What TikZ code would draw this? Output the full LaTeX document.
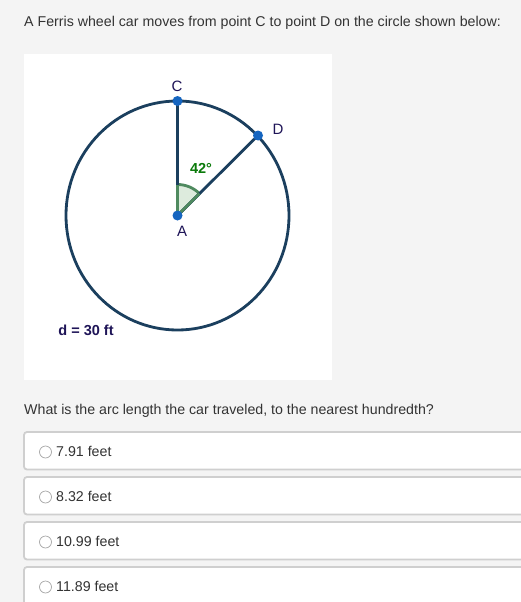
\documentclass[tikz,border=0pt]{standalone}
\usepackage{fontspec}
\setmainfont{Liberation Sans}
\definecolor{bgc}{HTML}{F4F4F4}
\definecolor{navy}{HTML}{1B3F5E}
\definecolor{ptblue}{HTML}{1565C0}
\definecolor{lbl}{HTML}{1E1457}
\definecolor{grn}{HTML}{0A7A0A}
\definecolor{arcg}{HTML}{4F8A5F}
\definecolor{arcf}{HTML}{DDEBDD}
\definecolor{boxb}{HTML}{CFCFCF}
\definecolor{txt}{HTML}{333333}
\tikzset{
  pt/.style={circle,fill=ptblue,inner sep=0pt,minimum size=10pt},
  ptlbl/.style={text=lbl,font=\fontsize{15}{17}\selectfont,inner sep=0pt},
  body/.style={text=txt,font=\fontsize{14.2}{16}\selectfont,inner sep=0pt,anchor=west},
  optbox/.style={draw=boxb,line width=1.8pt,fill=white,rounded corners=3pt},
  radio/.style={circle,draw=gray!70,fill=white,line width=0.7pt,minimum size=12pt,inner sep=0pt},
  stroke/.style={line width=2.8pt}
}
\begin{document}
\begin{tikzpicture}[x=1pt,y=-1pt]
\useasboundingbox (0,0) rectangle (521,602);
\fill[bgc] (0,0) rectangle (521,602);
\node[body] (title) at (24,23) {A Ferris wheel car moves from point C to point D on the circle shown below:};
% panel
\fill[white] (24,54) rectangle (332,380);
% circle
\coordinate (A) at (177.5,215.5);
\draw[navy,stroke] (A) ellipse [x radius=111.5pt,y radius=114.5pt];
\coordinate (C) at (177.5,101);
\coordinate (D) at (258,135.5);
% angle
\filldraw[fill=arcf,draw=arcg,stroke] (A) -- ++(0,-31) arc[start angle=90,end angle=45,radius=31pt] -- cycle;
\draw[navy,stroke] (A) -- (C);
\draw[navy,stroke] (A) -- (D);
\draw[arcg,stroke] (A) -- ++(45:31pt);
\draw[arcg,stroke] (A) -- ++(0,-31);
\node[pt] (pA) at (A) {};
\node[pt] (pC) at (C) {};
\node[pt] (pD) at (D) {};
\node[ptlbl] (lC) at (177,86) {C};
\node[ptlbl] (lD) at (278,129) {D};
\node[ptlbl] (lA) at (182,231) {A};
\node[text=grn,font=\bfseries\fontsize{14.5}{16}\selectfont,inner sep=0pt] (ang) at (201,168) {42°};
\node[text=lbl,font=\bfseries\fontsize{14.5}{16}\selectfont,inner sep=0pt] (dlab) at (86,330) {d = 30 ft};
% question
\node[body] (q) at (24,411) {What is the arc length the car traveled, to the nearest hundredth?};
% options
\draw[optbox] (24,432) rectangle (540,469.5);
\draw[optbox] (24,477) rectangle (540,514.5);
\draw[optbox] (24,522) rectangle (540,559.5);
\draw[optbox] (24,567) rectangle (540,610);
\node[radio] (r1) at (45.5,452) {};
\node[radio] (r2) at (45.5,497) {};
\node[radio] (r3) at (45.5,542) {};
\node[radio] (r4) at (45.5,587) {};
\node[body] (o1) at (56,451.5) {7.91 feet};
\node[body] (o2) at (56,496.5) {8.32 feet};
\node[body] (o3) at (56,541.5) {10.99 feet};
\node[body] (o4) at (56,586.5) {11.89 feet};
\end{tikzpicture}
\end{document}
